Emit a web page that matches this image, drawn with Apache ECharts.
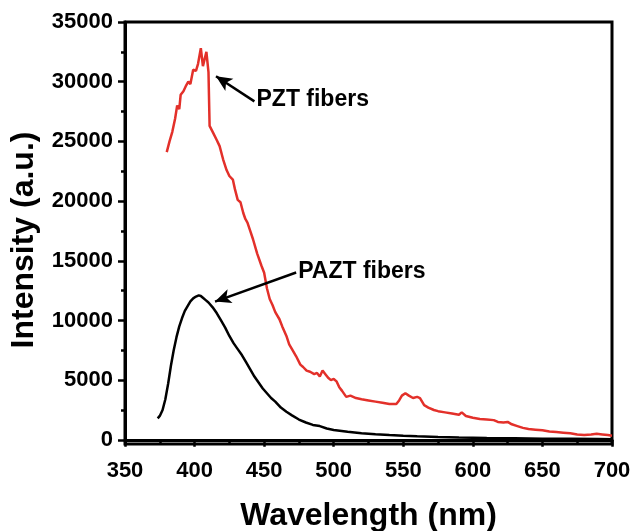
<!DOCTYPE html>
<html>
<head>
<meta charset="utf-8">
<script src="https://cdn.jsdelivr.net/npm/echarts@6/dist/echarts.min.js"></script>
<style>
html,body{margin:0;padding:0;background:#fff;}
#chart{width:634px;height:531px;}
</style>
</head>
<body>
<div id="chart"></div>
<script>
// ---- data ----
var pztWavelength = [380,382,384,386,387.5,389,390,392,394,395.5,397,399,401,402.5,404.5,406,407,408.5,410,410.8,413,416,418,420.5,423,425,427.5,429,431,433,435,436.5,438,440,442,444,445,448,450,452,454,456,458,461,463,466,468,470,473,476,478,480.5,483,486,488,490,492,494,496,498,500,502,504,506,509,512,516,520,525,530,535,540,545,547,549,551.5,554,557,560,562,565,568,572,575,580,585,590,592,595,600,605,610,615,618,622,625,628,632,636,640,645,650,655,660,665,670,675,680,685,689,693,697,700];
var pztIntensity = [24100,25000,25800,26900,28000,27700,28900,29200,29700,30000,29800,31000,30900,31500,32800,31300,31200,32500,30800,26300,25800,25100,24600,23500,22600,22100,21800,21000,20100,19900,19000,18500,18200,17500,16800,16000,15600,14600,14000,12700,11800,11300,10700,10100,9500,8700,8000,7600,7000,6300,6100,5800,5700,5500,5600,5300,5800,5500,5200,5000,5100,4900,4400,4100,3600,3700,3500,3400,3300,3200,3100,3000,3000,3300,3700,3900,3700,3500,3600,3500,2900,2700,2500,2400,2300,2200,2100,2300,2000,1850,1750,1700,1650,1500,1450,1500,1300,1150,1000,900,850,800,700,650,600,550,450,400,450,500,450,400,350];

var paztWavelength = [373.5,375,377,379,381,383,385,387,389,391,393,395,397,399,401,403,404.5,406,408,410,413,416,419,422,425,428,431,434,437,440,443,446,449,452,455,458,462,466,470,475,480,485,490,495,500,510,520,530,540,550,560,575,590,610,630,650,670,690,700];
var paztIntensity = [1800,2000,2500,3400,4700,6200,7500,8600,9500,10200,10800,11200,11600,11850,12000,12100,12050,11900,11700,11500,11100,10600,10000,9400,8700,8100,7600,7100,6500,5900,5300,4800,4300,3900,3500,3200,2700,2350,2050,1700,1450,1250,1150,950,830,680,560,470,400,340,290,240,200,160,130,100,80,60,50];

var xTicks = [350,400,450,500,550,600,650,700];
var yTicks = [0,5000,10000,15000,20000,25000,30000,35000];
var yMinorTicks = [2500,7500,12500,17500,22500,27500,32500];

// annotations
var annoLabels = ['PZT fibers', 'PAZT fibers'];
var annoText = [[444.5, 28500], [474.5, 14100]];
var annoTail = [[443.0, 28350], [473.0, 14020]];
var annoTip = [[415.4, 30460], [414.7, 11580]];

function zip(a, b) { return a.map(function (v, i) { return [v, b[i]]; }); }

var chart = echarts.init(document.getElementById('chart'), null, {renderer: 'canvas'});
var FONT = 'Liberation Sans, Arial, sans-serif';

var option = {
  backgroundColor: '#fff',
  animation: false,
  grid: {left: 125, right: 22, top: 22, bottom: 87, containLabel: false, outerBoundsMode: 'none',
    show: true, borderColor: '#000', borderWidth: 3, backgroundColor: 'transparent'},
  xAxis: {
    type: 'value', min: 350, max: 700, interval: 50,
    axisLine: {show: true, lineStyle: {color: '#000', width: 3}},
    axisTick: {show: true, inside: false, length: 7, lineStyle: {color: '#000', width: 2.5}},
    minorTick: {show: true, splitNumber: 2, length: 4, lineStyle: {color: '#000', width: 2.5}},
    axisLabel: {color: '#000', fontFamily: FONT, fontWeight: 'bold', fontSize: 22, margin: 16},
    splitLine: {show: false},
    name: 'Wavelength (nm)', nameLocation: 'middle', nameGap: 56,
    nameTextStyle: {color: '#000', fontFamily: FONT, fontWeight: 'bold', fontSize: 32}
  },
  yAxis: [{
    type: 'value', min: -350, max: 35000,
    axisLine: {show: true, lineStyle: {color: '#000', width: 3}},
    axisTick: {show: true, inside: false, length: 7, customValues: yTicks, lineStyle: {color: '#000', width: 2.5}},
    axisLabel: {color: '#000', fontFamily: FONT, fontWeight: 'bold', fontSize: 22, margin: 12, customValues: yTicks,
      formatter: function (v) { return String(Math.round(v)); }},
    splitLine: {show: false}
  }, {
    type: 'value', min: -350, max: 35000, position: 'left',
    axisLine: {show: false},
    axisTick: {show: true, inside: false, length: 4, customValues: yMinorTicks, lineStyle: {color: '#000', width: 2.5}},
    axisLabel: {show: false},
    splitLine: {show: false}
  }],
  series: [{
    type: 'line', name: 'PAZT fibers', data: zip(paztWavelength, paztIntensity),
    showSymbol: false, lineStyle: {color: '#000', width: 2.5}, z: 3
  }, {
    type: 'line', name: 'PZT fibers', data: zip(pztWavelength, pztIntensity),
    showSymbol: false, lineStyle: {color: '#e3302a', width: 2.5}, z: 4,
    markLine: {
      silent: true, symbol: ['none', 'arrow'], symbolSize: [11, 16],
      lineStyle: {color: '#000', width: 2.5, type: 'solid'},
      label: {show: false}, emphasis: {disabled: true},
      data: annoLabels.map(function (l, i) {
        return [{coord: annoTail[i]}, {coord: annoTip[i]}];
      })
    }
  }]
};
chart.setOption(option);

var graphics = annoLabels.map(function (l, i) {
  var p = chart.convertToPixel({gridIndex: 0}, annoText[i]);
  return {type: 'text', x: p[0], y: p[1], silent: true,
    style: {text: l, fill: '#000', font: 'bold 23px ' + FONT, textAlign: 'left', textVerticalAlign: 'middle'}};
});
graphics.push({type: 'text', x: 24, y: 240, rotation: Math.PI / 2, silent: true,
  style: {text: 'Intensity (a.u.)', fill: '#000', font: 'bold 32px ' + FONT, textAlign: 'center', textVerticalAlign: 'middle'}});
chart.setOption({graphic: graphics});
</script>
</body>
</html>
